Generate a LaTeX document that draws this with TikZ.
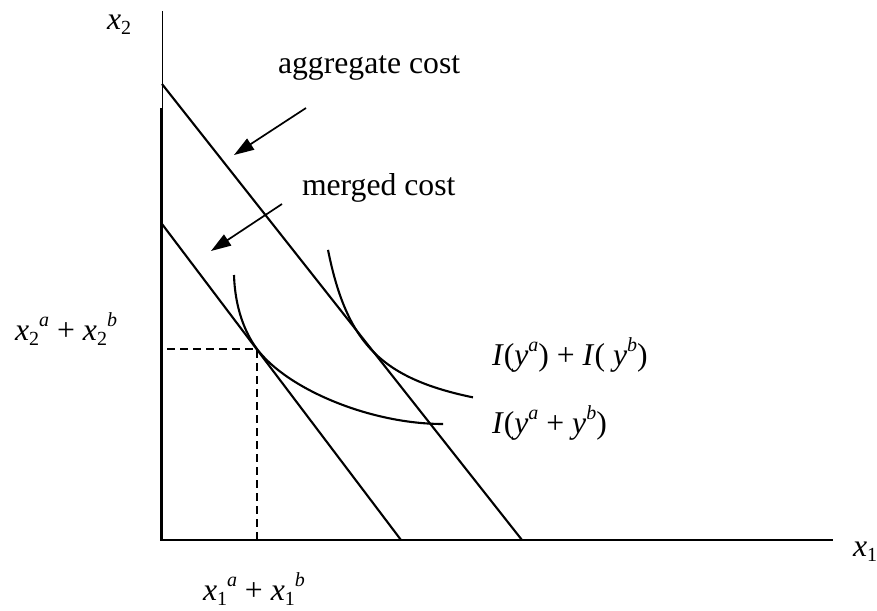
\documentclass[tikz,border=0pt]{standalone}
\usepackage{fontspec}
\setmainfont{Liberation Serif}
\usetikzlibrary{arrows.meta}
\newcommand\mysub[1]{\raisebox{-5pt}{\fontsize{20}{20}\selectfont #1}}
\newcommand\mysup[1]{\raisebox{14pt}{\fontsize{20}{20}\selectfont\itshape #1}}
\tikzset{
  lbl/.style={inner sep=0pt, outer sep=0pt, font=\fontsize{31.7}{38}\selectfont},
  axis/.style={line width=2.2pt},
  thinaxis/.style={line width=1pt},
  costline/.style={line width=2.1pt},
  isoq/.style={line width=2.1pt},
  guide/.style={line width=1.6pt, dash pattern=on 8pt off 5pt},
  pointer/.style={line width=1.7pt, -{Triangle[length=20pt,width=13pt]}}
}
\begin{document}
\begin{tikzpicture}[x=1pt,y=-1pt]
\useasboundingbox (0,0) rectangle (877,610);
% axes
\coordinate (ytop) at (162,11);
\coordinate (ybot) at (162,540);
\coordinate (ymidb) at (161,108);
\coordinate (O) at (161,540);
\coordinate (xend) at (833,540);
\draw[thinaxis] (ytop) -- (ybot);
\draw[axis] (ymidb) -- (O) -- (xend);
% cost lines
\coordinate (A0) at (162,84);
\coordinate (A1) at (522,540);
\coordinate (M0) at (162,224);
\coordinate (M1) at (401,540);
\draw[costline] (A0) -- (A1);
\draw[costline] (M0) -- (M1);
% isoquants
\draw[isoq] plot[domain=167:312, samples=90] ({161+\x},{435-6849/(\x-130)});
\coordinate (L0) at (234,275);
\coordinate (T) at (257,349);
\coordinate (L1) at (443,424);
\draw[isoq] (L0) .. controls (235,308) and (245,333) .. (T)
  .. controls (287,389) and (370,424) .. (L1);
% dashed guides
\coordinate (Gy) at (167,349);
\coordinate (Gx) at (257,540);
\draw[guide] (Gy) -- (T) -- (Gx);
% pointers
\coordinate (P1s) at (306,108);
\coordinate (P1e) at (234,155);
\coordinate (P2s) at (282,204);
\coordinate (P2e) at (211,251);
\draw[pointer] (P1s) -- (P1e);
\draw[pointer] (P2s) -- (P2e);
% labels
\node[lbl, anchor=base west] (lx2) at (107,30) {\textit{x}\mysub{2}};
\node[lbl, anchor=base west] (lx1) at (853,556) {\textit{x}\mysub{1}};
\node[lbl, anchor=base west] (lagg) at (278,73) {aggregate cost};
\node[lbl, anchor=base west] (lmer) at (302,195) {merged cost};
\node[lbl, anchor=base east] (lx2s) at (117,340) {\textit{x}\mysub{2}\mysup{a} + \textit{x}\mysub{2}\mysup{b}};
\node[lbl, anchor=base west] (lx1s) at (203,600) {\textit{x}\mysub{1}\mysup{a} + \textit{x}\mysub{1}\mysup{b}};
\node[lbl, anchor=base west] (lIsum) at (492,365) {\textit{I}(\textit{y}\mysup{a}) + \textit{I}( \textit{y}\mysup{b})};
\node[lbl, anchor=base west] (lImer) at (492,433) {\textit{I}(\textit{y}\mysup{a} + \textit{y}\mysup{b})};
\end{tikzpicture}
\end{document}
